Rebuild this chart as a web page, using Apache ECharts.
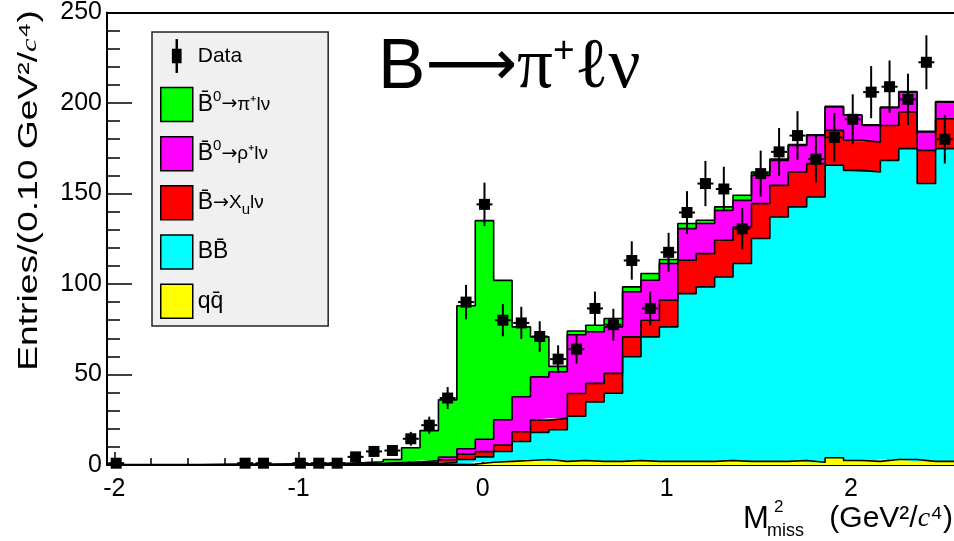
<!DOCTYPE html>
<html><head><meta charset="utf-8">
<script src="https://cdn.jsdelivr.net/npm/echarts@6/dist/echarts.min.js"></script>
<style>html,body{margin:0;padding:0;background:#fff}#c{width:954px;height:541px}</style>
</head><body><div id="c"></div>
<script>
// Histogram binning: 46 bins of width 0.1 starting at -2.04
const BIN_START = -2.04;
const BIN_WIDTH = 0.1;
const NBINS = 46;

// Stacked MC components (entries per bin), bottom to top
const qq = [0,0,0,0,0,0,0,0,0,0,
  0,0,0,0.1,0.1,0.2,0.3,0.3,0.4,0.5,
  1.5,2,2.5,3,2,2.5,2,2,2.5,2,
  2,2,2,2.5,2,2,2,2.5,1.5,4,
  2.5,2,3,3,2,2];
const bb = [0,0,0,0,0,0,0,0,0,0,
  0,0.1,0.2,0.2,0.3,0.3,0.4,0.5,1.0,2.5,
  3,5.5,10.5,15,17.5,24.5,32.9,37.6,57.3,68.8,
  74.3,92.7,96.4,101.4,109.3,123.1,135,140.1,146.6,161.6,
  160.3,159.9,165.3,171.8,153.5,172.8];
const xu = [0,0,0,0,0,0,0,0,0,0,
  0,0.1,0.1,0.2,0.3,0.3,0.4,0.7,1.5,3,
  2.9,3.5,5.4,6.8,6.3,12.5,10.2,11,11,9.2,
  14.8,18.4,18.4,20.3,20.2,19.3,17.5,19.3,18.4,19.3,
  16.6,16.5,19.3,20.2,18.3,16.5];
const rho = [0,0,0,0,0,0,0,0,0,0,
  0,0.2,0.3,0.3,0.3,0.5,0.6,1.0,1.5,3,
  6.8,14,19.3,23.9,25.7,32.5,28.5,25.7,24.9,22.1,
  20.2,17.5,16.6,16.5,14.7,15.6,13.8,14.7,15.6,12.9,
  13.8,9.2,9.8,11,10.2,9.2];
const pi = [0.2,0.2,0.3,0.3,0.3,0.4,0.5,0.5,0.5,0.6,
  0.7,0.5,0.4,0.5,0.8,1.7,7.8,16.5,31.6,79,
  120.8,77,38.6,22.1,3.0,2,3.6,4.6,2.7,3.7,
  2.2,2.8,1.8,1.9,2.8,1.9,0.7,0.4,0.4,0.4,
  0.3,0.3,0.3,0.3,0.3,0.3];

// Data points and their errors (null = no point drawn)
const dataVal = [1,null,null,null,null,null,null,1,1,null,
  1,1,1,4.5,7.5,8,14.5,22,37,90,
  144,80,78.5,71,58.5,64,86.5,77.5,113,86.5,
  117.5,139.5,155.5,152.5,130.5,161,173,182,169,181,
  191,206,209,202,222.5,180];
const dataErr = [1,null,null,null,null,null,null,1,1,null,
  1,1,1,2.1,2.7,2.8,3.8,4.7,6.1,9.5,
  12,8.9,8.9,8.4,7.6,8,9.3,8.8,10.6,9.3,
  10.8,11.8,12.5,12.3,11.4,12.7,13.2,13.5,13,13.5,
  13.8,14.4,14.5,14.2,14.9,13.4];

// Axis ticks
const xMajorTicks = [-2, -1, 0, 1, 2];
const xMinorTicks = [-2,-1.8,-1.6,-1.4,-1.2,-1,-0.8,-0.6,-0.4,-0.2,0,0.2,0.4,0.6,0.8,1,1.2,1.4,1.6,1.8,2,2.2,2.4];
const X_MIN = -2.04, X_MAX = 2.56;
const Y_MIN = 0, Y_MAX = 250, Y_STEP = 50;

const edges = [];
for (let i = 0; i <= NBINS; i++) edges.push(+(BIN_START + i * BIN_WIDTH).toFixed(2));
// data rows are [value, binLowEdge] so that the value column is the stacked one
function stepData(vals) {
  const d = vals.map((v, i) => [v, edges[i]]);
  d.push([vals[NBINS - 1], edges[NBINS]]);
  return d;
}
const centers = edges.slice(0, NBINS).map(e => +(e + BIN_WIDTH / 2).toFixed(3));
const dataPts = [];
dataVal.forEach((v, i) => { if (v !== null) dataPts.push([centers[i], v, dataErr[i]]); });

const layers = [
  { name: 'qq', vals: qq, color: '#ffff00' },
  { name: 'BB', vals: bb, color: '#00ffff' },
  { name: 'Xu', vals: xu, color: '#ff0000' },
  { name: 'rho', vals: rho, color: '#ff00ff' },
  { name: 'pi', vals: pi, color: '#00ff00' }
];

const series = layers.map(l => ({
  type: 'line', name: l.name, data: stepData(l.vals), encode: { x: 1, y: 0 },
  stack: 'mc', step: 'end',
  symbol: 'none', showSymbol: false, color: l.color, itemStyle: { color: l.color },
  lineStyle: { color: '#000', width: 1.6 }, areaStyle: { color: l.color, opacity: 1 },
  emphasis: { disabled: true }, silent: true, animation: false, xAxisIndex: 0, yAxisIndex: 0
}));

series.push({
  type: 'custom', name: 'Data', data: dataPts, encode: { x: 0, y: 1 }, z: 10,
  itemStyle: { color: '#000' }, animation: false, silent: true,
  renderItem: function (params, api) {
    const x = api.value(0), y = api.value(1), e = api.value(2);
    const p = api.coord([x, y]);
    const lo = api.coord([x, Math.max(0, y - e)]);
    const hi = api.coord([x, y + e]);
    return { type: 'group', children: [
      { type: 'line', shape: { x1: p[0], y1: hi[1], x2: p[0], y2: lo[1] }, style: { stroke: '#000', lineWidth: 2 } },
      { type: 'line', shape: { x1: p[0] - 8, y1: p[1], x2: p[0] + 8, y2: p[1] }, style: { stroke: '#000', lineWidth: 2 } },
      { type: 'rect', shape: { x: p[0] - 5.5, y: p[1] - 5.5, width: 11, height: 11 }, style: { fill: '#000' } }
    ]};
  }
});

const LEGEND_LABELS = {
  'Data': '{d|Data}',
  'pi': '{b|B\u0304}{sup|0}{ar|\u2192}{s|\u03c0\u207alν}',
  'rho': '{b|B\u0304}{sup|0}{ar|\u2192}{s|\u03c1\u207alν}',
  'Xu': '{b|B\u0304}{ar|\u2192}{s|X}{sub|u}{s|lν}',
  'BB': '{b|BB\u0304}',
  'qq': '{b|qq\u0304}'
};
const dataIcon = 'path://M15,0 L17,0 L17,8 L20,8 L20,20 L17,20 L17,28 L15,28 L15,20 L12,20 L12,8 L15,8 Z';

const legendData = [
  { name: 'Data', icon: dataIcon, itemStyle: { color: '#000', borderWidth: 0 } },
  { name: 'pi', icon: 'rect', itemStyle: { color: '#00ff00', borderColor: '#000', borderWidth: 1.5 } },
  { name: 'rho', icon: 'rect', itemStyle: { color: '#ff00ff', borderColor: '#000', borderWidth: 1.5 } },
  { name: 'Xu', icon: 'rect', itemStyle: { color: '#ff0000', borderColor: '#000', borderWidth: 1.5 } },
  { name: 'BB', icon: 'rect', itemStyle: { color: '#00ffff', borderColor: '#000', borderWidth: 1.5 } },
  { name: 'qq', icon: 'rect', itemStyle: { color: '#ffff00', borderColor: '#000', borderWidth: 1.5 } }
];

const axisLineStyle = { color: '#000', width: 2 };
const tickLineStyle = { color: '#000', width: 1.5 };

const option = {
  animation: false,
  textStyle: { fontFamily: 'Liberation Sans' },
  grid: { left: 107, right: 0, top: 12, bottom: 76, containLabel: false },
  title: {
    left: 373, top: 28,
    text: '{a|B}{r|\u27f6}{b|\u03c0}{s|+}{b|\u2113\u03bd}',
    textStyle: { fontWeight: 'normal', rich: {
      a: { fontSize: 71, fontFamily: 'Liberation Sans', fontWeight: 'normal', color: '#000' },
      r: { fontSize: 64, fontFamily: 'DejaVu Sans', fontWeight: 'normal', color: '#000' },
      b: { fontSize: 71, fontFamily: 'Liberation Serif', fontWeight: 'normal', color: '#000' },
      s: { fontSize: 37, fontFamily: 'Liberation Sans', fontWeight: 'normal', color: '#000', verticalAlign: 'top', lineHeight: 40 }
    } }
  },
  legend: {
    left: 152, top: 32, orient: 'vertical', padding: [7, 58, 7, 8],
    itemGap: 13.7, itemWidth: 32, itemHeight: 34,
    backgroundColor: '#f0f0f0', borderColor: '#222', borderWidth: 1.5,
    selectedMode: false, data: legendData,
    formatter: name => LEGEND_LABELS[name],
    textStyle: { color: '#000', fontFamily: 'Liberation Sans', rich: {
      d: { fontSize: 21, color: '#000' },
      b: { fontSize: 23, color: '#000', lineHeight: 30 },
      s: { fontSize: 19, color: '#000' },
      ar: { fontSize: 19, color: '#000', fontFamily: 'DejaVu Sans' },
      sup: { fontSize: 15, color: '#000', verticalAlign: 'top', lineHeight: 12 },
      sub: { fontSize: 15, color: '#000', verticalAlign: 'bottom', lineHeight: 6 }
    } }
  },
  xAxis: [
    { type: 'value', min: X_MIN, max: X_MAX, position: 'bottom',
      axisLine: { show: true, onZero: false, lineStyle: axisLineStyle },
      axisTick: { show: true, inside: true, length: 7, customValues: xMinorTicks, lineStyle: tickLineStyle },
      axisLabel: { show: true, customValues: xMajorTicks, fontSize: 25, color: '#000', margin: 12 },
      splitLine: { show: false } },
    { type: 'value', min: X_MIN, max: X_MAX, position: 'bottom',
      axisLine: { show: false, onZero: false },
      axisTick: { show: true, inside: true, length: 13, customValues: xMajorTicks, lineStyle: tickLineStyle },
      axisLabel: { show: false }, splitLine: { show: false } },
    { type: 'value', min: X_MIN, max: X_MAX, position: 'top',
      axisLine: { show: true, onZero: false, lineStyle: axisLineStyle },
      axisTick: { show: false }, axisLabel: { show: false }, splitLine: { show: false } }
  ],
  yAxis: {
    type: 'value', min: Y_MIN, max: Y_MAX, interval: Y_STEP, position: 'left',
    axisLine: { show: true, onZero: false, lineStyle: axisLineStyle },
    axisTick: { show: true, inside: true, length: 25, lineStyle: tickLineStyle },
    minorTick: { show: true, splitNumber: 5, length: 13, lineStyle: tickLineStyle },
    axisLabel: { fontSize: 25, color: '#000', margin: 5 },
    splitLine: { show: false }
  },
  graphic: [
    { type: 'text', x: 30, y: 10, rotation: Math.PI / 2, scaleX: 1.38, scaleY: 1,
      style: { text: 'Entries/(0.10 GeV\u00b2/{it|c}\u2074)', fontSize: 27, fontFamily: 'Liberation Sans',
        fill: '#000', align: 'right', verticalAlign: 'middle',
        rich: { it: { fontSize: 22, fontStyle: 'italic', fontFamily: 'Liberation Serif' } } } },
    { type: 'text', x: 743, y: 519, style: { text: 'M', fontSize: 31, fill: '#000', fontFamily: 'Liberation Sans', align: 'left', verticalAlign: 'middle' } },
    { type: 'text', x: 774, y: 507, style: { text: '2', fontSize: 17, fill: '#000', fontFamily: 'Liberation Sans', align: 'left', verticalAlign: 'middle' } },
    { type: 'text', x: 767, y: 531, style: { text: 'miss', fontSize: 18, fill: '#000', fontFamily: 'Liberation Sans', align: 'left', verticalAlign: 'middle' } },
    { type: 'text', x: 953, y: 519, style: { text: '(GeV\u00b2/{it|c}\u2074)', fontSize: 30, fill: '#000', fontFamily: 'Liberation Sans', align: 'right', verticalAlign: 'middle',
        rich: { it: { fontSize: 28, fontStyle: 'italic', fontFamily: 'Liberation Serif' } } } }
  ],
  series: series
};

const chart = echarts.init(document.getElementById('c'), null, { renderer: 'canvas' });
chart.setOption(option);
</script>
</body></html>
